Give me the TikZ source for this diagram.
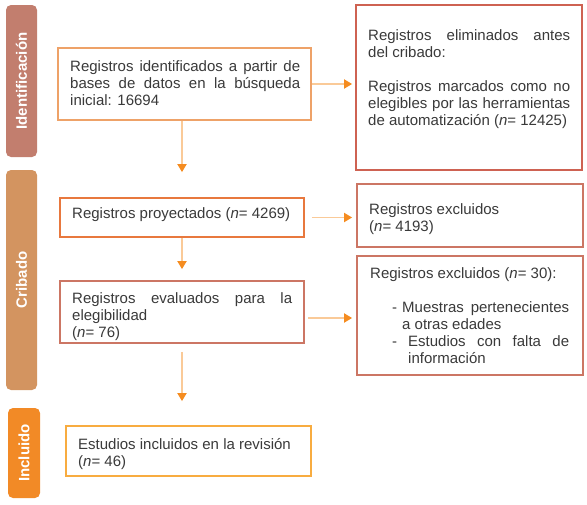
\documentclass[tikz,border=0pt]{standalone}
\usepackage{fontspec}
\setmainfont{Liberation Sans}
\usetikzlibrary{arrows.meta}
\definecolor{cIdent}{RGB}{194,126,110}
\definecolor{cCrib}{RGB}{211,148,96}
\definecolor{cIncl}{RGB}{242,138,38}
\definecolor{bOne}{RGB}{238,162,104}
\definecolor{bRed}{RGB}{206,98,82}
\definecolor{bTwo}{RGB}{232,120,62}
\definecolor{bSoft}{RGB}{204,118,100}
\definecolor{bFour}{RGB}{248,172,64}
\definecolor{aLine}{RGB}{250,202,152}
\definecolor{aHead}{RGB}{245,140,32}
\definecolor{txt}{RGB}{58,58,58}
\newcommand{\jl}[2]{\makebox[#1pt][s]{#2}}
\begin{document}
\begin{tikzpicture}[x=1pt,y=-1pt,
  side/.style={rounded corners=5pt, draw=none, rotate=90, text=white,
    font=\fontsize{15}{17}\selectfont\bfseries, inner sep=0},
  box/.style={draw, line width=1.8pt, fill=white, inner sep=0},
  txtnode/.style={anchor=base west, align=left, inner sep=0, text=txt,
    font=\fontsize{15}{17}\selectfont},
  flow/.style={draw=aLine, line width=1.8pt,
    -{Triangle[width=9pt,length=8pt,color=aHead]}}
]
\useasboundingbox (0,0) rectangle (587,504);

% phase labels
\node[side, fill=cIdent, minimum width=152pt, minimum height=31pt] (sIdent) at (21.5,81) {Identificación};
\node[side, fill=cCrib, minimum width=220pt, minimum height=31pt] (sCrib) at (21.5,280) {Cribado};
\node[side, fill=cIncl, minimum width=90pt, minimum height=32pt] (sIncl) at (24,453) {Incluido};

% boxes
\node[box, draw=bOne, minimum width=253pt, minimum height=72pt] (b1) at (184.5,84) {};
\node[box, draw=bRed, minimum width=226pt, minimum height=165pt] (r1) at (469,87.5) {};
\node[box, draw=bTwo, minimum width=244pt, minimum height=39pt] (b2) at (182,217.5) {};
\node[box, draw=bSoft, minimum width=226pt, minimum height=63pt] (r2) at (470,215.5) {};
\node[box, draw=bSoft, minimum width=244pt, minimum height=62pt] (b3) at (182,312) {};
\node[box, draw=bSoft, minimum width=226pt, minimum height=119pt] (r3) at (470,315.5) {};
\node[box, draw=bFour, minimum width=245pt, minimum height=50pt] (b4) at (188.5,451) {};

% texts (anchored at the baseline of their last line)
\node[txtnode] (t1) at (70,105.5) {\jl{230}{Registros identificados a partir de}\\
  \jl{230}{bases de datos en la búsqueda}\\ inicial: 16694};
\node[txtnode] (tr1) at (368,125.5) {\jl{202}{Registros eliminados antes}\\
  del cribado:\\[17pt]
  \jl{202}{Registros marcados como no}\\
  \jl{202}{elegibles por las herramientas}\\
  de automatización (\textit{n}= 12425)};
\node[txtnode] (t2) at (72,218) {Registros proyectados (\textit{n}= 4269)};
\node[txtnode] (tr2) at (369,231) {Registros excluidos\\ (\textit{n}= 4193)};
\node[txtnode] (t3) at (72,337) {\jl{220}{Registros evaluados para la}\\ elegibilidad\\ (\textit{n}= 76)};
\node[txtnode] (tr3) at (370,363) {Registros excluidos (\textit{n}= 30):\\[17pt]
  \hspace*{22pt}\makebox[10pt][l]{-}\jl{167}{Muestras pertenecientes}\\
  \hspace*{32pt}a otras edades\\
  \hspace*{22pt}\makebox[16pt][l]{-}\jl{161}{Estudios con falta de}\\
  \hspace*{38pt}información};
\node[txtnode] (t4) at (78,466) {Estudios incluidos en la revisión\\ (\textit{n}= 46)};

% connectors
\draw[flow, shorten >=25pt] (b1.south -| b2.north) -- (b2.north);
\draw[flow, shorten >=3pt] (b1.east) -- (r1.west |- b1.east);
\draw[flow, shorten >=11pt] (b2.south) -- (b3.north);
\draw[flow, shorten <=7pt, shorten >=4pt] (b2.east) -- (r2.west |- b2.east);
\draw[flow, shorten <=8pt, shorten >=24pt] (b3.south) -- (b4.north -| b3.south);
\draw[flow, shorten <=3pt, shorten >=4pt] ([yshift=-6pt]b3.east) -- ([yshift=-6pt]b3.east -| r3.west);
\end{tikzpicture}
\end{document}
